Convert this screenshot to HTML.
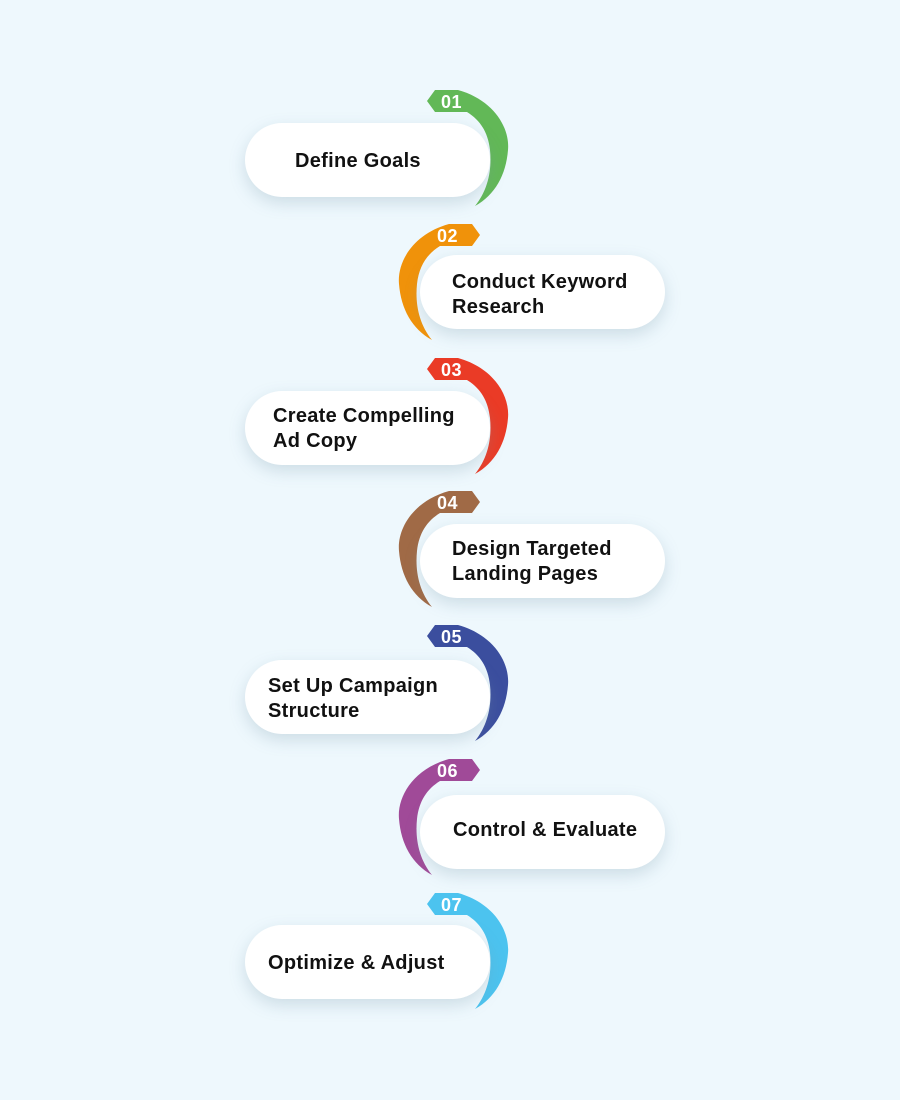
<!DOCTYPE html>
<html><head><meta charset="utf-8"><style>
body{margin:0;width:900px;height:1100px;background:#eef8fd;position:relative;overflow:hidden;font-family:"Liberation Sans",sans-serif}
.pill{position:absolute;width:245px;height:74px;border-radius:37px;background:#fff;box-shadow:0 6px 16px rgba(120,150,170,.28);}
.t{position:absolute;font-weight:bold;font-size:20px;line-height:25px;color:#111;letter-spacing:0.3px}
svg{position:absolute;left:0;top:0}
.n{font-family:"Liberation Sans",sans-serif;font-weight:bold;font-size:18px;fill:#fff;letter-spacing:0.5px}
</style></head><body>
<svg width="900" height="1100">
<defs>
<path id="cr" d="M435 90 L458 90 C494 100 510 128 508 150 C506 175 495 195 475 206 C488 190 492 170 490 150 C488 132 480 120 467 112 L435 112 L427 101 Z"/>
</defs>
<use href="#cr" fill="#62b857"/>
<use href="#cr" fill="#f0920a" transform="translate(907,134) scale(-1,1)"/>
<use href="#cr" fill="#ea3b26" transform="translate(0,268)"/>
<use href="#cr" fill="#a06a46" transform="translate(907,401) scale(-1,1)"/>
<use href="#cr" fill="#3b4e9e" transform="translate(0,535)"/>
<use href="#cr" fill="#a04a98" transform="translate(907,669) scale(-1,1)"/>
<use href="#cr" fill="#4cc3ef" transform="translate(0,803)"/>
<text class="n" x="441" y="108">01</text>
<text class="n" x="437" y="242">02</text>
<text class="n" x="441" y="376">03</text>
<text class="n" x="437" y="509">04</text>
<text class="n" x="441" y="643">05</text>
<text class="n" x="437" y="777">06</text>
<text class="n" x="441" y="911">07</text>
</svg>
<div class="pill" style="left:245px;top:123px"></div>
<div class="pill" style="left:420px;top:255px"></div>
<div class="pill" style="left:245px;top:391px"></div>
<div class="pill" style="left:420px;top:524px"></div>
<div class="pill" style="left:245px;top:660px"></div>
<div class="pill" style="left:420px;top:795px"></div>
<div class="pill" style="left:245px;top:925px"></div>
<div class="t" style="left:295px;top:149px">Define Goals</div>
<div class="t" style="left:452px;top:270px">Conduct Keyword<br>Research</div>
<div class="t" style="left:273px;top:404px">Create Compelling<br>Ad Copy</div>
<div class="t" style="left:452px;top:537px">Design Targeted<br>Landing Pages</div>
<div class="t" style="left:268px;top:674px">Set Up Campaign<br>Structure</div>
<div class="t" style="left:453px;top:818px">Control &amp; Evaluate</div>
<div class="t" style="left:268px;top:951px">Optimize &amp; Adjust</div>
</body></html>
